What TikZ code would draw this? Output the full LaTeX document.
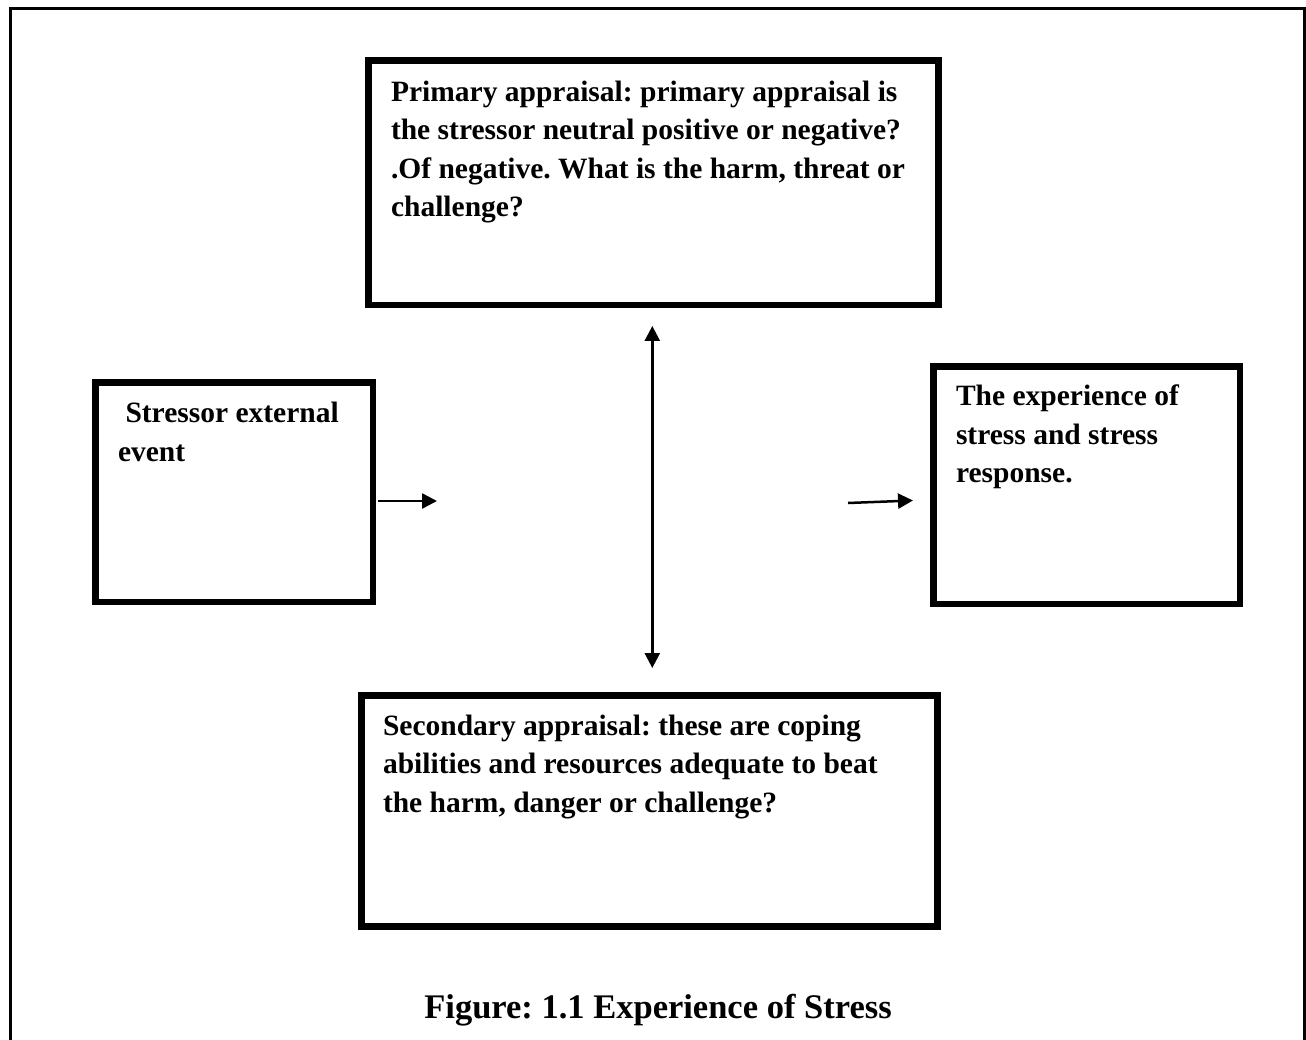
\documentclass[tikz,border=0pt]{standalone}
\usepackage{fontspec}
\setmainfont{Liberation Serif}
\usetikzlibrary{arrows.meta}
\begin{document}
\frenchspacing
\begin{tikzpicture}[x=1pt,y=-1pt,
  box/.style={draw, line width=6.5pt, inner sep=0pt, outer sep=0pt, rectangle, anchor=north west},
  txt/.style={inner sep=0pt, outer sep=0pt, align=left, anchor=north west,
    font=\frenchspacing\bfseries\fontsize{29.5}{38.5}\selectfont},
  arr/.style={line width=2.5pt, -{Triangle[length=15pt,width=15pt]}},
  darr/.style={line width=2.5pt, {Triangle[length=15pt,width=15pt]}-{Triangle[length=15pt,width=15pt]}},
  frame/.style={line width=3pt}]
\useasboundingbox (0,0) rectangle (1306,1040);
% outer frame (open at bottom)
\coordinate (fbl) at (10.3,1040);
\coordinate (ftl) at (10.3,9);
\coordinate (ftr) at (1304.3,9);
\coordinate (fbr) at (1304.3,1040);
\draw[frame] (fbl) -- (ftl) -- (ftr) -- (fbr);
% boxes
\node[box, minimum width=570pt, minimum height=244.5pt] (primary) at (368.5,60.5) {};
\node[box, minimum width=277.5pt, minimum height=219.5pt] (stressor) at (95.5,382.5) {};
\node[box, minimum width=306.5pt, minimum height=237.5pt] (experience) at (933.5,366.5) {};
\node[box, minimum width=576pt, minimum height=231pt] (secondary) at (361.5,695.5) {};
% texts
\node[txt] (primarytext) at (391,81) {Primary appraisal: primary appraisal is\\the stressor neutral positive or negative?\\.Of negative. What is the harm, threat or\\challenge?};
\node[txt] (stressortext) at (118,402.5) {\hspace*{7.5pt}Stressor external\\event};
\node[txt] (experiencetext) at (956,385) {The experience of\\stress and stress\\response.};
\node[txt] (secondarytext) at (383,715) {Secondary appraisal: these are coping\\abilities and resources adequate to beat\\the harm, danger or challenge?};
\node[inner sep=0pt, anchor=base, font=\frenchspacing\bfseries\fontsize{34.5}{40}\selectfont] (caption) at (658,1018) {Figure: 1.1 Experience of Stress};
% connectors
\coordinate (a1s) at (378,501);
\coordinate (a1e) at (437,501);
\coordinate (a2s) at (848,503);
\coordinate (a2e) at (913,500.5);
\coordinate (vt) at (652.3,326);
\coordinate (vb) at (652.3,668);
\draw[arr] (a1s) -- (a1e);
\draw[arr] (a2s) -- (a2e);
\draw[darr] (vt) -- (vb);
\end{tikzpicture}
\end{document}
